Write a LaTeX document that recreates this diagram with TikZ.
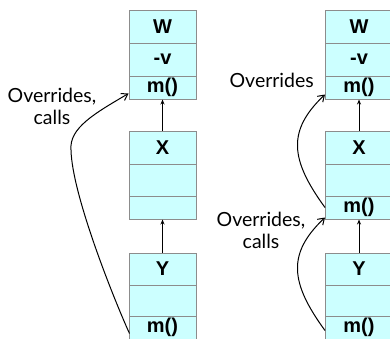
\documentclass[tikz,border=0pt]{standalone}
\usepackage{fontspec}
\setmainfont{Liberation Sans}
\newfontfamily\notefont{Lato}
\usetikzlibrary{arrows.meta,calc}
\definecolor{rowfill}{HTML}{CCFFFF}
\definecolor{rowline}{HTML}{8C8C8C}
\tikzset{
  row/.style={draw=rowline, fill=rowfill, line width=1pt, minimum width=67pt,
    inner sep=0pt, font=\fontsize{20}{20}\selectfont\bfseries},
  inherit/.style={-{Stealth[length=5pt,width=4pt]}, line width=1pt},
  overrides/.style={-{Straight Barb[length=6pt,width=8pt]}, line width=1pt},
  note/.style={font=\notefont\fontsize{19.5}{22}\selectfont, align=center, inner sep=0pt}
}
\begin{document}
\begin{tikzpicture}[x=1pt,y=-1pt]
\useasboundingbox (0,0) rectangle (390,338);
\clip (0,0) rectangle (390,338);

% Left hierarchy: W <- X <- Y
\node[row, minimum height=33pt] (wt) at (162.5,26.5) {W};
\node[row, minimum height=33pt] (wv) at (162.5,59.5) {-v};
\node[row, minimum height=23pt] (wm) at (162.5,87.5) {m()};
\node[row, minimum height=33pt] (xt) at (162.5,147.5) {X};
\node[row, minimum height=32pt] (xv) at (162.5,180) {};
\node[row, minimum height=23pt] (xm) at (162.5,207.5) {};
\node[row, minimum height=32pt] (yt) at (162.5,269) {Y};
\node[row, minimum height=31pt] (yv) at (162.5,300.5) {};
\node[row, minimum height=23pt] (ym) at (162.5,327.5) {m()};

\draw[inherit] (xt.north) -- (wm.south);
\draw[inherit] (yt.north) -- (xm.south);

\coordinate (bend) at (71,150);
\draw[overrides] ($(ym.south west)+(1,-6)$)
  .. controls +(-15,-33) and +(1,45) .. (bend)
  .. controls +(-2,-22) and +(-34,20) .. ($(wm.south west)+(0,-6)$);
\node[note] (n1) at (52,106) {Overrides,\\calls};

% Right hierarchy: W <- X <- Y, with m() overridden twice
\node[row, minimum height=33pt] (wt2) at (359,26.5) {W};
\node[row, minimum height=33pt] (wv2) at (359,59.5) {-v};
\node[row, minimum height=23pt] (wm2) at (359,87.5) {m()};
\node[row, minimum height=33pt] (xt2) at (359,147.5) {X};
\node[row, minimum height=32pt] (xv2) at (359,180) {};
\node[row, minimum height=23pt] (xm2) at (359,207.5) {m()};
\node[row, minimum height=32pt] (yt2) at (359,269) {Y};
\node[row, minimum height=31pt] (yv2) at (359,300.5) {};
\node[row, minimum height=23pt] (ym2) at (359,327.5) {m()};

\draw[inherit] (xt2.north) -- (wm2.south);
\draw[inherit] (yt2.north) -- (xm2.south);

\draw[overrides] (xm2.west)
  .. controls +(-35,-48) and +(-38,36) .. ($(wm2.south west)+(0,-5)$);
\draw[overrides] ($(ym2.west)+(0,3)$)
  .. controls +(-35,-48) and +(-38,36) .. ($(xm2.south west)+(0,-2)$);

\node[note, anchor=east] (n2) at (314,80) {Overrides};
\node[note] (n3) at (261,230) {Overrides,\\calls};
\end{tikzpicture}
\end{document}
